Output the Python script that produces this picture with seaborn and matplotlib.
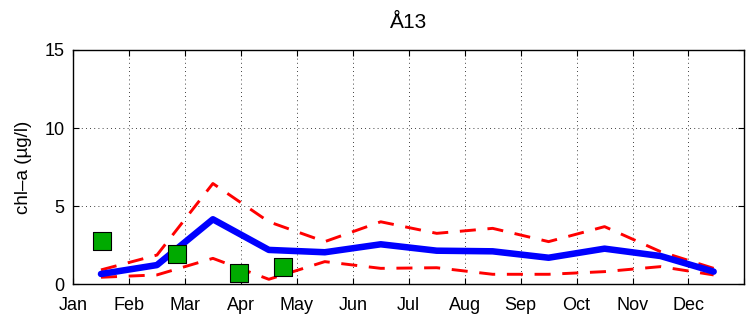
import matplotlib
matplotlib.use("Agg")
import matplotlib.pyplot as plt
import seaborn as sns
import pandas as pd

# Monthly chlorophyll-a climatology (mid-month positions, month index)
month_pos = [0.5, 1.5, 2.5, 3.5, 4.5, 5.5, 6.5, 7.5, 8.5, 9.5, 10.5, 11.45]
chl_mean = [0.66, 1.23, 4.16, 2.20, 2.05, 2.56, 2.15, 2.11, 1.70, 2.28, 1.81, 0.81]
chl_upper = [0.92, 1.87, 6.45, 4.00, 2.73, 4.00, 3.26, 3.58, 2.73, 3.69, 2.09, 1.02]
chl_lower = [0.45, 0.60, 1.66, 0.32, 1.45, 1.02, 1.06, 0.64, 0.64, 0.81, 1.13, 0.60]

# Individual samples for the year
obs_pos = [0.51, 1.86, 2.97, 3.76]
obs_val = [2.77, 1.92, 0.70, 1.11]

month_labels = ["Jan", "Feb", "Mar", "Apr", "May", "Jun",
                "Jul", "Aug", "Sep", "Oct", "Nov", "Dec"]

sns.set_style("ticks")
plt.rcParams["font.family"] = ["Liberation Sans", "DejaVu Sans"]
plt.rcParams["text.color"] = "black"
plt.rcParams["axes.labelcolor"] = "black"

clim = pd.DataFrame({"pos": month_pos, "mean": chl_mean,
                     "upper": chl_upper, "lower": chl_lower})
obs = pd.DataFrame({"pos": obs_pos, "val": obs_val})

fig = plt.figure(figsize=(7.55, 3.2), dpi=100)
ax = fig.add_axes([0.0967, 0.1116, 0.8893, 0.7324])

dash = (0, (5.5, 4))
sns.lineplot(data=clim, x="pos", y="upper", ax=ax, color="#ff0000",
             linewidth=2.1, linestyle=dash)
sns.lineplot(data=clim, x="pos", y="lower", ax=ax, color="#ff0000",
             linewidth=2.1, linestyle=dash)
sns.lineplot(data=clim, x="pos", y="mean", ax=ax, color="#0000ff",
             linewidth=4.7)
sns.scatterplot(data=obs, x="pos", y="val", ax=ax, marker="s", s=150,
                color="#00aa00", edgecolor="black", linewidth=0.8, zorder=5)

ax.set_xlim(0, 12)
ax.set_ylim(0, 15)
ax.set_xticks(range(13))
ax.set_xticklabels(month_labels + [""])
ax.set_yticks([0, 5, 10, 15])
ax.tick_params(direction="in", length=4, width=0.8, top=True, right=True,
               labelsize=13, colors="black", labelcolor="black")
ax.tick_params(axis="x", pad=9)
ax.tick_params(axis="y", pad=6)
for sp in ax.spines.values():
    sp.set_visible(True)
    sp.set_linewidth(1.0)
    sp.set_color("black")
ax.grid(True, color="black", linestyle=(0, (1, 4)), linewidth=0.6)
ax.set_axisbelow(True)
ax.set_xlabel("")
ax.set_ylabel("chl\u2013a (\u00b5g/l)", fontsize=13.5, labelpad=9)
ax.set_title("\u00c513", fontsize=15, pad=16)

fig.savefig("out.png", dpi=100)
